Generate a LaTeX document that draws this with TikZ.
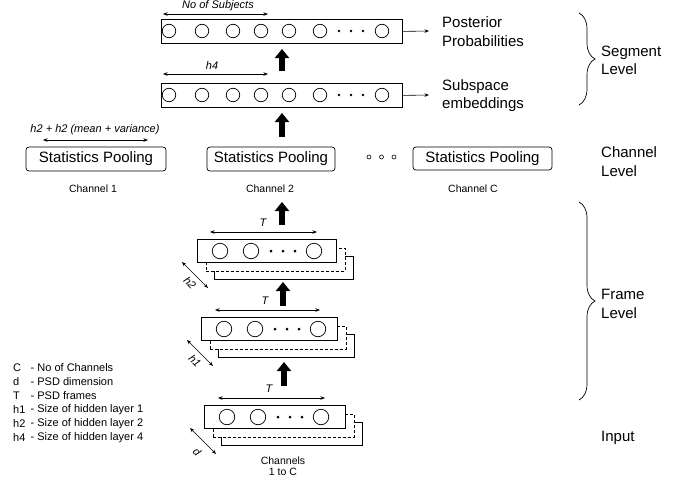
\documentclass[tikz,border=0pt]{standalone}
\usepackage{fontspec}
\setmainfont{Liberation Sans}
\usetikzlibrary{arrows.meta,decorations.pathreplacing}
\begin{document}
\begin{tikzpicture}[x=1pt,y=-1pt,
  big/.style={font=\fontsize{15}{18.5}\selectfont,align=left,inner sep=0pt},
  small/.style={font=\fontsize{10.5}{11.5}\selectfont,inner sep=0pt,align=center},
  legend/.style={font=\fontsize{11}{12}\selectfont,inner sep=0pt},
  ital/.style={font=\fontsize{11}{12}\selectfont\itshape,inner sep=0pt},
  layerbox/.style={draw,line width=0.8pt,fill=white,inner sep=0pt,anchor=north west},
  unitc/.style={circle,draw,line width=0.7pt,inner sep=0pt,minimum size=#1},
  dotc/.style={circle,fill=black,inner sep=0pt,minimum size=3pt},
  hdot/.style={circle,draw,line width=0.6pt,inner sep=0pt,minimum size=4pt},
  poolbox/.style={draw,line width=0.7pt,rounded corners=3pt,inner sep=0pt,font=\fontsize{15}{16}\selectfont},
  dimarrow/.style={line width=0.6pt,{Stealth[length=4.5pt,width=3.5pt]}-{Stealth[length=4.5pt,width=3.5pt]}},
  outarrow/.style={line width=0.6pt,-{Stealth[length=4.5pt,width=3.5pt]}},
  thickarrow/.style={line width=6.5pt,-{Triangle[length=9pt,width=14pt]}},
  lvlbrace/.style={decorate,decoration={brace,amplitude=16pt},line width=0.7pt}
]
\useasboundingbox (0,0) rectangle (691,480);

% ---------- Segment level ----------
\node[layerbox,minimum width=241pt,minimum height=24pt] (seg1) at (161,19) {};
\node[layerbox,minimum width=241pt,minimum height=24pt] (seg2) at (161,83) {};
\foreach \b/\yc in {seg1/31,seg2/95}{
  \foreach \xc [count=\i] in {169,202,233,261,289,320,382}
    \node[unitc=13.5pt] (\b c\i) at (\xc,\yc) {};
  \foreach \xc [count=\i] in {339,351,363}
    \node[dotc,minimum size=2.8pt] (\b d\i) at (\xc,\yc) {};
}
\coordinate (ns1) at (163,14); \coordinate (ns2) at (268,14);
\draw[dimarrow] (ns1) -- (ns2);
\node[ital] (nsl) at (218,6) {No of Subjects};
\coordinate (h4a) at (163,74); \coordinate (h4b) at (268,74);
\draw[dimarrow] (h4a) -- (h4b);
\node[ital] (h4l) at (212,66) {h4};

\node[big,anchor=west] (post) at (442,31.5) {Posterior\\Probabilities};
\node[big,anchor=west] (subs) at (442,95.5) {Subspace\\embeddings};
\coordinate (o1) at (429,31); \coordinate (o2) at (429,95);
\draw[outarrow] (seg1.east) -- (o1);
\draw[outarrow] (seg2.east) -- (o2);

\coordinate (t1s) at (282,71); \coordinate (t1e) at (282,49);
\draw[thickarrow] (t1s) -- (t1e);
\coordinate (t2s) at (282,137); \coordinate (t2e) at (282,113);
\draw[thickarrow] (t2s) -- (t2e);

\coordinate (sb1) at (579,13); \coordinate (sb2) at (579,105);
\draw[lvlbrace] (sb1) -- (sb2);
\node[big,anchor=west] (segl) at (601,60.5) {Segment\\Level};

% ---------- Channel level ----------
\node[poolbox,minimum width=140pt,minimum height=24pt] (sp1) at (96,159) {Statistics Pooling};
\node[poolbox,minimum width=128pt,minimum height=24pt] (sp2) at (271,159) {Statistics Pooling};
\node[poolbox,minimum width=139pt,minimum height=23pt] (sp3) at (482.5,158.5) {Statistics Pooling};
\node[hdot] (hd1) at (369,157) {};
\node[hdot] (hd2) at (381.5,157) {};
\node[hdot] (hd3) at (394,157) {};
\node[small] (ch1) at (93,188.5) {Channel 1};
\node[small] (ch2) at (270,188.5) {Channel 2};
\node[small] (ch3) at (473,189) {Channel C};
\coordinate (mv1) at (43,140); \coordinate (mv2) at (148,140);
\draw[dimarrow] (mv1) -- (mv2);
\node[ital] (mvl) at (95,130) {h2 + h2 (mean + variance)};
\node[big,anchor=west] (chl) at (601,161.5) {Channel\\Level};

% ---------- Frame level stacks ----------
% stack: back solid, dashed, front
\foreach \n/\x/\y/\w in {s1/197/239/139, s2/201/317/136, s3/204/405/141}{
  \node[layerbox,minimum width=\w pt,minimum height=23pt] (\n b) at (\x+17,\y+17) {};
  \node[layerbox,dashed,dash pattern=on 3pt off 2pt,minimum width=\w pt,minimum height=23pt] (\n m) at (\x+8.5,\y+8.5) {};
  \node[layerbox,minimum width=\w pt,minimum height=23pt] (\n) at (\x,\y) {};
  \foreach \dx [count=\i] in {23,54,117}
    \node[unitc=15.5pt] (\n c\i) at (\x+\dx,\y+12) {};
  \foreach \dx [count=\i] in {74,86,98}
    \node[dotc] (\n d\i) at (\x+\dx,\y+12) {};
}

% T arrows
\coordinate (ta1) at (210,232); \coordinate (tb1) at (317,232);
\draw[dimarrow] (ta1) -- (tb1);
\node[ital] (tl1) at (263,223) {T};
\coordinate (ta2) at (215,310); \coordinate (tb2) at (320,310);
\draw[dimarrow] (ta2) -- (tb2);
\node[ital] (tl2) at (265,301) {T};
\coordinate (ta3) at (218,398); \coordinate (tb3) at (325,398);
\draw[dimarrow] (ta3) -- (tb3);
\node[ital] (tl3) at (269,389) {T};

% thick arrows
\coordinate (t3s) at (282,225); \coordinate (t3e) at (282,202);
\draw[thickarrow] (t3s) -- (t3e);
\coordinate (t4s) at (283,306); \coordinate (t4e) at (283,282);
\draw[thickarrow] (t4s) -- (t4e);
\coordinate (t5s) at (284,386); \coordinate (t5e) at (284,362);
\draw[thickarrow] (t5s) -- (t5e);

% diagonal dimension arrows
\coordinate (da1) at (182,262); \coordinate (db1) at (208,288);
\draw[dimarrow] (da1) -- (db1);
\node[ital,rotate=-45] (dl1) at (190,283) {h2};
\coordinate (da2) at (187,340); \coordinate (db2) at (213,366);
\draw[dimarrow] (da2) -- (db2);
\node[ital,rotate=-45] (dl2) at (195,361) {h1};
\coordinate (da3) at (190,428); \coordinate (db3) at (216,454);
\draw[dimarrow] (da3) -- (db3);
\node[ital,rotate=-45] (dl3) at (197,452) {d};

\node[small] (chin) at (283,466) {Channels\\1 to C};

\coordinate (fb1) at (579,202); \coordinate (fb2) at (579,400);
\draw[lvlbrace] (fb1) -- (fb2);
\node[big,anchor=west] (frl) at (601,304) {Frame\\Level};
\node[big,anchor=west] (inp) at (601,438) {Input};

% ---------- Legend ----------
\foreach \k/\s/\t in {0/C/- No of Channels, 1/d/- PSD dimension, 2/T/- PSD frames,
  3/h1/- Size of hidden layer 1, 4/h2/- Size of hidden layer 2, 5/h4/- Size of hidden layer 4}{
  \node[legend,anchor=west] (lg\k a) at (13,367.5+14*\k) {\s};
  \node[legend,anchor=west] (lg\k b) at (30.5,367.5+14*\k) {\t};
}
\end{tikzpicture}
\end{document}
